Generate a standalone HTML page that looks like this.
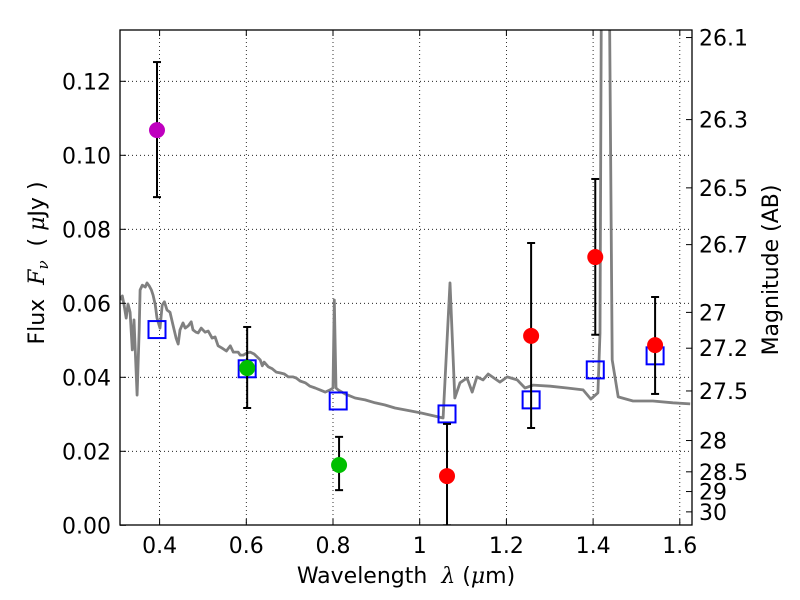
<!DOCTYPE html>
<html><head><meta charset="utf-8"><style>
body{margin:0;background:#fff}
svg{display:block;font-family:"DejaVu Sans","Liberation Sans",sans-serif}
</style></head><body>
<svg id="c" width="800" height="600"></svg>
<script>
const specWl=[0.309,0.314,0.318,0.323,0.327,0.332,0.337,0.341,0.348,0.353,0.355,0.360,0.367,0.371,0.376,0.381,0.385,0.390,0.394,0.401,0.406,0.411,0.417,0.424,0.431,0.438,0.443,0.447,0.454,0.459,0.466,0.473,0.477,0.484,0.489,0.496,0.505,0.512,0.521,0.528,0.535,0.544,0.554,0.563,0.570,0.581,0.586,0.593,0.602,0.609,0.618,0.625,0.632,0.637,0.641,0.651,0.660,0.669,0.678,0.688,0.697,0.708,0.715,0.724,0.736,0.747,0.759,0.770,0.782,0.793,0.800,0.803,0.807,0.812,0.828,0.851,0.874,0.897,0.920,0.943,0.966,1.001,1.054,1.070,1.081,1.093,1.109,1.121,1.132,1.146,1.158,1.185,1.202,1.225,1.243,1.262,1.301,1.340,1.377,1.395,1.411,1.416,1.421,1.434,1.444,1.458,1.492,1.538,1.584,1.624];
const specFlux=[0.0609,0.0620,0.0595,0.0560,0.0598,0.0576,0.0474,0.0555,0.0352,0.0528,0.0636,0.0649,0.0644,0.0655,0.0647,0.0636,0.0622,0.0595,0.0560,0.0533,0.0595,0.0604,0.0582,0.0576,0.0541,0.0506,0.0490,0.0528,0.0547,0.0533,0.0539,0.0550,0.0528,0.0522,0.0520,0.0533,0.0522,0.0525,0.0506,0.0509,0.0485,0.0479,0.0471,0.0485,0.0468,0.0468,0.0460,0.0460,0.0466,0.0468,0.0463,0.0455,0.0447,0.0431,0.0441,0.0428,0.0423,0.0414,0.0412,0.0409,0.0401,0.0401,0.0398,0.0390,0.0385,0.0376,0.0371,0.0366,0.0360,0.0366,0.0371,0.0609,0.0371,0.0366,0.0355,0.0344,0.0339,0.0331,0.0325,0.0317,0.0312,0.0304,0.0290,0.0655,0.0344,0.0385,0.0398,0.0360,0.0401,0.0393,0.0409,0.0387,0.0401,0.0393,0.0371,0.0379,0.0376,0.0371,0.0366,0.0341,0.0358,0.0520,0.2000,0.2000,0.0447,0.0347,0.0336,0.0336,0.0331,0.0328];
const photWl=[0.394,0.602,0.814,1.063,1.257,1.405,1.543];
const photFlux=[0.1068,0.0425,0.0163,0.0133,0.0512,0.0725,0.0487];
const photLo=[0.0887,0.0317,0.0095,0.0,0.0263,0.0515,0.0355];
const photHi=[0.1252,0.0536,0.0239,0.0274,0.0763,0.0936,0.0617];
const photColor=['#bf00bf','#00bf00','#00bf00','#ff0000','#ff0000','#ff0000','#ff0000'];
const modelWl=[0.394,0.602,0.812,1.063,1.257,1.405,1.543];
const modelFlux=[0.0529,0.0423,0.0336,0.0301,0.0339,0.0420,0.0458];
const xTicks=[0.4,0.6,0.8,1.0,1.2,1.4,1.6];
const xTickLabels=['0.4','0.6','0.8','1','1.2','1.4','1.6'];
const yTicks=[0,0.02,0.04,0.06,0.08,0.10,0.12];
const yTickLabels=['0.00','0.02','0.04','0.06','0.08','0.10','0.12'];
const magTicks=[26.1,26.3,26.5,26.7,27,27.2,27.5,28,28.5,29,30];
const magLabels=['26.1','26.3','26.5','26.7','27','27.2','27.5','28','28.5','29','30'];

const L=120,R=692,T=30,B=525;
const X=v=>419.7+(v-1)*433.5;
const Y=f=>525.3-f*3700;
const magToFlux=m=>Math.pow(10,(23.9-m)/2.5);
const svg=document.getElementById('c');
const NS='http://www.w3.org/2000/svg';
function mk(tag,attrs,parent){const e=document.createElementNS(NS,tag);for(const k in attrs)e.setAttribute(k,attrs[k]);(parent||svg).appendChild(e);return e;}
const FS=22;

const defs=mk('defs',{});
const cp=mk('clipPath',{id:'clip'},defs);
mk('rect',{x:L,y:T,width:R-L,height:B-T},cp);
const plot=mk('g',{'clip-path':'url(#clip)'});

xTicks.forEach(v=>{const g=mk('line',{x1:X(v),x2:X(v),y1:T,y2:B,stroke:'#000','stroke-width':0.8,'stroke-dasharray':'1,3'},plot);

});
yTicks.forEach(v=>{const g=mk('line',{x1:L,x2:R,y1:Y(v),y2:Y(v),stroke:'#000','stroke-width':0.8,'stroke-dasharray':'1,3'},plot);

});

let d='';specWl.forEach((w,i)=>{d+=(i?'L':'M')+X(w).toFixed(1)+','+Y(specFlux[i]).toFixed(1);});
const sp=mk('path',{d:d,fill:'none',stroke:'#808080','stroke-width':2.8,'stroke-linejoin':'round'},plot);



modelWl.forEach((w,i)=>{const s=mk('rect',{x:X(w)-8.5,y:Y(modelFlux[i])-8.5,width:17,height:17,fill:'none',stroke:'#0000ff','stroke-width':2},plot);

});

photWl.forEach((w,i)=>{const x=X(w);
const eb=mk('g',{stroke:'#000','stroke-width':2},plot);


mk('line',{x1:x,x2:x,y1:Y(photLo[i]),y2:Y(photHi[i])},eb);
mk('line',{x1:x-4,x2:x+4,y1:Y(photLo[i]),y2:Y(photLo[i])},eb);
mk('line',{x1:x-4,x2:x+4,y1:Y(photHi[i]),y2:Y(photHi[i])},eb);
const c=mk('circle',{cx:x,cy:Y(photFlux[i]),r:8,fill:photColor[i]},plot);

});

const fr=mk('rect',{x:L,y:T,width:R-L,height:B-T,fill:'none',stroke:'#000','stroke-width':1.3});



xTicks.forEach((v,i)=>{const x=X(v);
mk('line',{x1:x,x2:x,y1:B,y2:B-6,stroke:'#000'});
mk('line',{x1:x,x2:x,y1:T,y2:T+6,stroke:'#000'});
const t=mk('text',{x:x,y:553,'font-size':FS,'text-anchor':'middle'});t.textContent=xTickLabels[i];

});
yTicks.forEach((v,i)=>{const y=Y(v);
mk('line',{x1:L,x2:L+6,y1:y,y2:y,stroke:'#000'});
const t=mk('text',{x:111,y:y+8,'font-size':FS,'text-anchor':'end'});t.textContent=yTickLabels[i];

});
magTicks.forEach((m,i)=>{const y=Y(magToFlux(m));
mk('line',{x1:R,x2:R-6,y1:y,y2:y,stroke:'#000'});
const t=mk('text',{x:699,y:y+8,'font-size':FS});t.textContent=magLabels[i];

});

const xl=mk('text',{x:406,y:583,'font-size':FS,'text-anchor':'middle'});
xl.innerHTML='Wavelength\u00a0\u00a0<tspan font-style="italic" font-family="DejaVu Serif,serif">λ</tspan> (<tspan font-style="italic" font-family="DejaVu Serif,serif">μ</tspan>m)';


const yl=mk('text',{x:0,y:0,'font-size':FS,'text-anchor':'middle',transform:'translate(44,263) rotate(-90)'});
yl.innerHTML='Flux\u00a0\u00a0<tspan font-style="italic" font-family="DejaVu Serif,serif">F</tspan><tspan font-style="italic" font-size="15" dy="4" font-family="DejaVu Serif,serif">ν</tspan><tspan dy="-4">\u00a0\u00a0(\u00a0</tspan><tspan font-style="italic" font-family="DejaVu Serif,serif">μ</tspan>Jy )';


const ml=mk('text',{x:0,y:0,'font-size':FS,'text-anchor':'middle',transform:'translate(778,270) rotate(-90)'});
ml.textContent='Magnitude (AB)';


</script>
</body></html>
